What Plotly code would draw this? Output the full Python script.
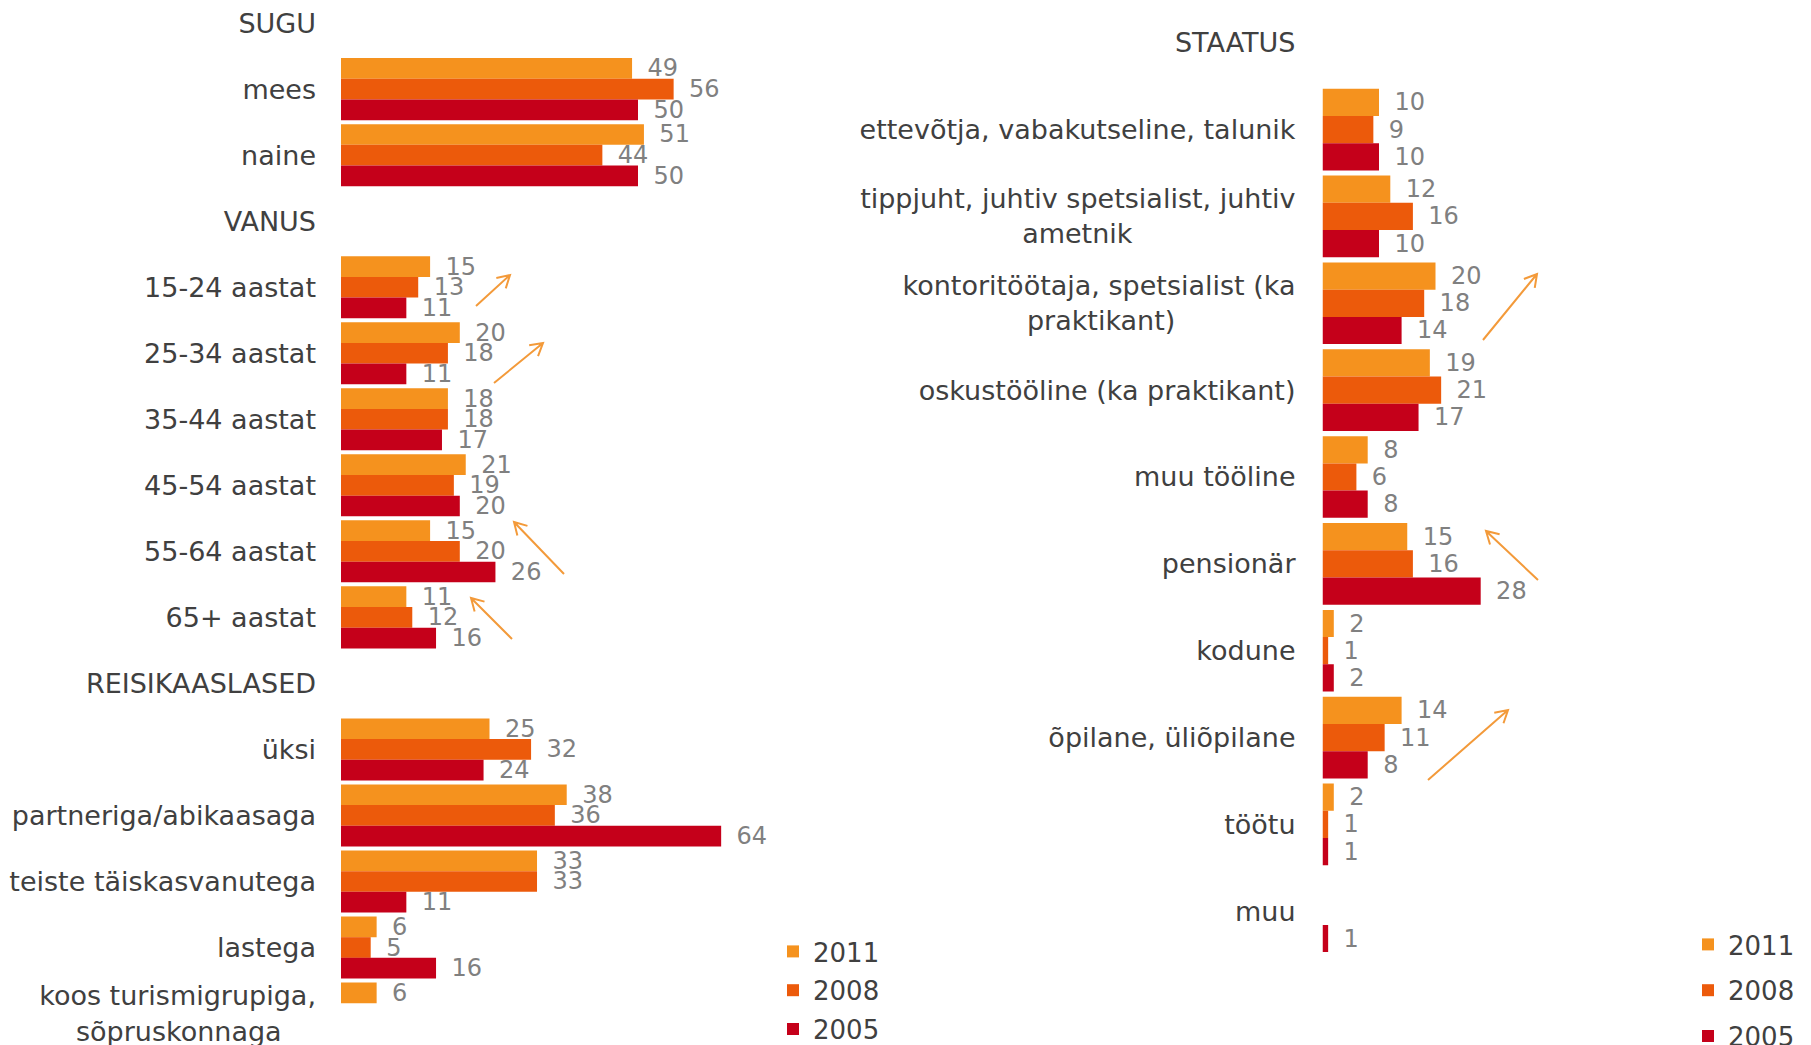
import math
import plotly.graph_objects as go

W, H = 1811, 1045

# ---------------- data ----------------
years = ["2011", "2008", "2005"]

left_labels = [
    "SUGU", "mees", "naine",
    "VANUS", "15-24 aastat", "25-34 aastat", "35-44 aastat", "45-54 aastat",
    "55-64 aastat", "65+ aastat",
    "REISIKAASLASED", "üksi", "partneriga/abikaasaga", "teiste täiskasvanutega",
    "lastega", "koos turismigrupiga,<br>sõpruskonnaga",
]
left_2011 = [None, 49, 51, None, 15, 20, 18, 21, 15, 11, None, 25, 38, 33, 6, 6]
left_2008 = [None, 56, 44, None, 13, 18, 18, 19, 20, 12, None, 32, 36, 33, 5, None]
left_2005 = [None, 50, 50, None, 11, 11, 17, 20, 26, 16, None, 24, 64, 11, 16, None]

right_labels = [
    "STAATUS",
    "ettevõtja, vabakutseline, talunik",
    "tippjuht, juhtiv spetsialist, juhtiv<br>ametnik",
    "kontoritöötaja, spetsialist (ka<br>praktikant)",
    "oskustööline (ka praktikant)",
    "muu tööline",
    "pensionär",
    "kodune",
    "õpilane, üliõpilane",
    "töötu",
    "muu",
]
right_2011 = [None, 10, 12, 20, 19, 8, 15, 2, 14, 2, None]
right_2008 = [None, 9, 16, 18, 21, 6, 16, 1, 11, 1, None]
right_2005 = [None, 10, 10, 14, 17, 8, 28, 2, 8, 1, 1]

# ---------------- style ----------------
colors = {"2011": "#F5921E", "2008": "#EC5A0B", "2005": "#C5001A"}
FONT = "DejaVu Sans"
LABEL_COLOR = "#404040"
VALUE_COLOR = "#808080"
ARROW_COLOR = "#F39A3A"
NB = "\u00a0"
LABEL_SIZE = 27
VALUE_SIZE = 24
LEGEND_SIZE = 26

# trailing padding on 2nd line of wrapped labels to emulate centred alignment
center_pad = {"ametnik": 19, "praktikant)": 14, "sõpruskonnaga": 4}


def centre(label):
    if "<br>" not in label:
        return label
    a, b = label.split("<br>")
    return a + "<br>" + b + NB * center_pad.get(b, 0)


def vtext(vals):
    return [(NB + "\u2009" + str(v)) if v is not None else "" for v in vals]


fig = go.Figure()

left_series = {"2011": left_2011, "2008": left_2008, "2005": left_2005}
right_series = {"2011": right_2011, "2008": right_2008, "2005": right_2005}

for yr in years:
    vals = left_series[yr]
    fig.add_trace(go.Bar(
        x=vals, y=list(range(len(left_labels))), orientation="h",
        name=yr, marker=dict(color=colors[yr], line=dict(width=0)),
        text=vtext(vals), textposition="outside", cliponaxis=False,
        constraintext="none",
        textfont=dict(family=FONT, size=VALUE_SIZE, color=VALUE_COLOR),
        xaxis="x", yaxis="y", legend="legend", legendgroup="L" + yr,
        hoverinfo="skip",
    ))
for yr in years:
    vals = right_series[yr]
    fig.add_trace(go.Bar(
        x=vals, y=list(range(len(right_labels))), orientation="h",
        name=yr, marker=dict(color=colors[yr], line=dict(width=0)),
        text=vtext(vals), textposition="outside", cliponaxis=False,
        constraintext="none",
        textfont=dict(family=FONT, size=VALUE_SIZE, color=VALUE_COLOR),
        xaxis="x2", yaxis="y2", legend="legend2", legendgroup="R" + yr,
        hoverinfo="skip",
    ))

# axis geometry (pixels -> paper)
L_X0, L_PPU, L_MAX = 341.0, 5.94, 80
R_X0, R_PPU, R_MAX = 1322.5, 5.65, 40
L_ROW0, L_PITCH = 23.1, 66.03
R_ROW0, R_PITCH = 42.7, 86.86

xaxis_common = dict(visible=False, showgrid=False, zeroline=False, fixedrange=True)
yaxis_common = dict(
    showgrid=False, zeroline=False, showline=False, ticks="",
    tickfont=dict(family=FONT, size=LABEL_SIZE, color=LABEL_COLOR),
    ticklabeloverflow="allow", fixedrange=True,
)

fig.update_layout(
    width=W, height=H,
    margin=dict(l=0, r=0, t=0, b=0, autoexpand=False),
    paper_bgcolor="white", plot_bgcolor="white",
    barmode="group", bargap=0.06, bargroupgap=0,
    font=dict(family=FONT, color=LABEL_COLOR),
    xaxis=dict(domain=[L_X0 / W, (L_X0 + L_MAX * L_PPU) / W], range=[0, L_MAX],
               anchor="y", **xaxis_common),
    yaxis=dict(domain=[0, 1], anchor="x",
               range=[(H - L_ROW0) / L_PITCH, -L_ROW0 / L_PITCH],
               tickmode="array", tickvals=list(range(len(left_labels))),
               ticktext=[centre(s) for s in left_labels],
               ticklabelstandoff=24, **yaxis_common),
    xaxis2=dict(domain=[R_X0 / W, (R_X0 + R_MAX * R_PPU) / W], range=[0, R_MAX],
                anchor="y2", **xaxis_common),
    yaxis2=dict(domain=[0, 1], anchor="x2",
                range=[(H - R_ROW0) / R_PITCH, -R_ROW0 / R_PITCH],
                tickmode="array", tickvals=list(range(len(right_labels))),
                ticktext=[centre(s) for s in right_labels],
                ticklabelstandoff=26, **yaxis_common),
    legend=dict(x=773 / W, y=1 - 928 / H, xanchor="left", yanchor="top",
                font=dict(family=FONT, size=LEGEND_SIZE, color=LABEL_COLOR),
                tracegroupgap=2, bgcolor="rgba(0,0,0,0)", borderwidth=0),
    legend2=dict(x=1688 / W, y=1 - 921 / H, xanchor="left", yanchor="top",
                 font=dict(family=FONT, size=LEGEND_SIZE, color=LABEL_COLOR),
                 tracegroupgap=9, bgcolor="rgba(0,0,0,0)", borderwidth=0),
    showlegend=True,
)

# trend arrows (tail -> head), in pixels
arrows_px = [
    ((476, 306), (510, 275)),
    ((494, 383), (543, 343)),
    ((564, 574), (514, 522)),
    ((512, 639), (471, 598)),
    ((1483, 340), (1537, 274)),
    ((1538, 580), (1486, 531)),
    ((1428, 780), (1508, 710)),
]


def P(x, y):
    return f"{x / W:.5f},{1 - y / H:.5f}"


shapes = []
for (tx, ty), (hx, hy) in arrows_px:
    dx, dy = hx - tx, hy - ty
    n = math.hypot(dx, dy)
    ux, uy = dx / n, dy / n
    L, ang = 14, math.radians(30)
    arms = []
    for s in (1, -1):
        c, si = math.cos(s * ang), math.sin(s * ang)
        rx, ry = ux * c - uy * si, ux * si + uy * c
        arms.append((hx - L * rx, hy - L * ry))
    path = (f"M{P(tx, ty)} L{P(hx, hy)} "
            f"M{P(*arms[0])} L{P(hx, hy)} L{P(*arms[1])}")
    shapes.append(dict(type="path", xref="paper", yref="paper", path=path,
                       line=dict(color=ARROW_COLOR, width=2)))
fig.update_layout(shapes=shapes)

fig.write_html(
    "out.html",
    config={"displayModeBar": False},
    post_script="document.body.style.margin='0px';document.body.style.overflow='hidden';",
)
